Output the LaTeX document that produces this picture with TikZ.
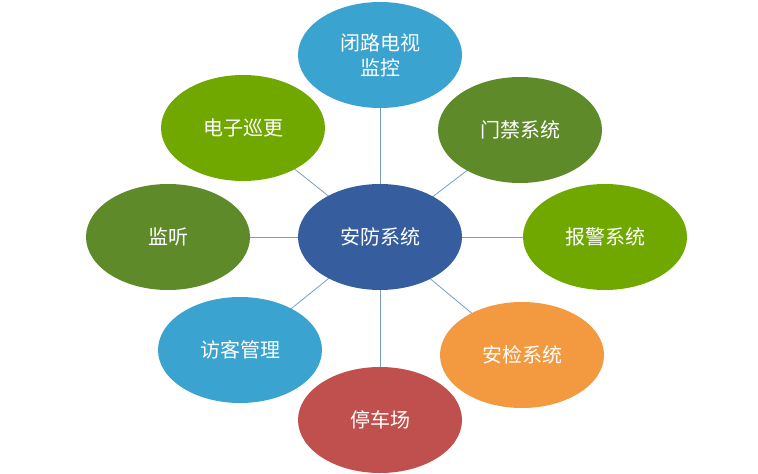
\documentclass[tikz,border=0pt]{standalone}
\usepackage{fontspec}
\newfontfamily\cjk{Noto Sans CJK SC}
\usetikzlibrary{shapes.geometric}
\definecolor{hubcol}{RGB}{54,94,159}
\definecolor{skycol}{RGB}{59,163,208}
\definecolor{olivecol}{RGB}{95,138,42}
\definecolor{limecol}{RGB}{112,168,0}
\definecolor{orangecol}{RGB}{243,154,65}
\definecolor{redcol}{RGB}{192,80,77}
\definecolor{linkcol}{RGB}{120,160,190}
\tikzset{
  blob/.style={ellipse,minimum width=164pt,minimum height=106pt,inner sep=0pt,
    text=white,font=\cjk\fontsize{20}{25}\selectfont,align=center},
  link/.style={draw=linkcol,line width=0.8pt}
}
\begin{document}
\begin{tikzpicture}[x=1pt,y=-1pt]
  \useasboundingbox (0,0) rectangle (758,474);
  % spokes first, nodes on top
  \coordinate (c) at (380,237);
  \draw[link] (c) -- (380,55);
  \draw[link] (c) -- (520,130);
  \draw[link] (c) -- (605,237);
  \draw[link] (c) -- (522,355);
  \draw[link] (c) -- (380,420);
  \draw[link] (c) -- (240,350);
  \draw[link] (c) -- (168,237);
  \draw[link] (c) -- (243,128);
  % Node: outer ring
  \node[blob,fill=skycol] (cctv) at (380,55) {闭路电视\\监控};
  \node[blob,fill=olivecol] (door) at (520,130) {门禁系统};
  \node[blob,fill=limecol] (alarm) at (605,237) {报警系统};
  \node[blob,fill=orangecol] (check) at (522,355) {安检系统};
  \node[blob,fill=redcol] (park) at (380,420) {停车场};
  \node[blob,fill=skycol] (guest) at (240,350) {访客管理};
  \node[blob,fill=olivecol] (listen) at (168,237) {监听};
  \node[blob,fill=limecol] (patrol) at (243,128) {电子巡更};
  % Node: hub
  \node[blob,fill=hubcol] (hub) at (c) {安防系统};
\end{tikzpicture}
\end{document}
